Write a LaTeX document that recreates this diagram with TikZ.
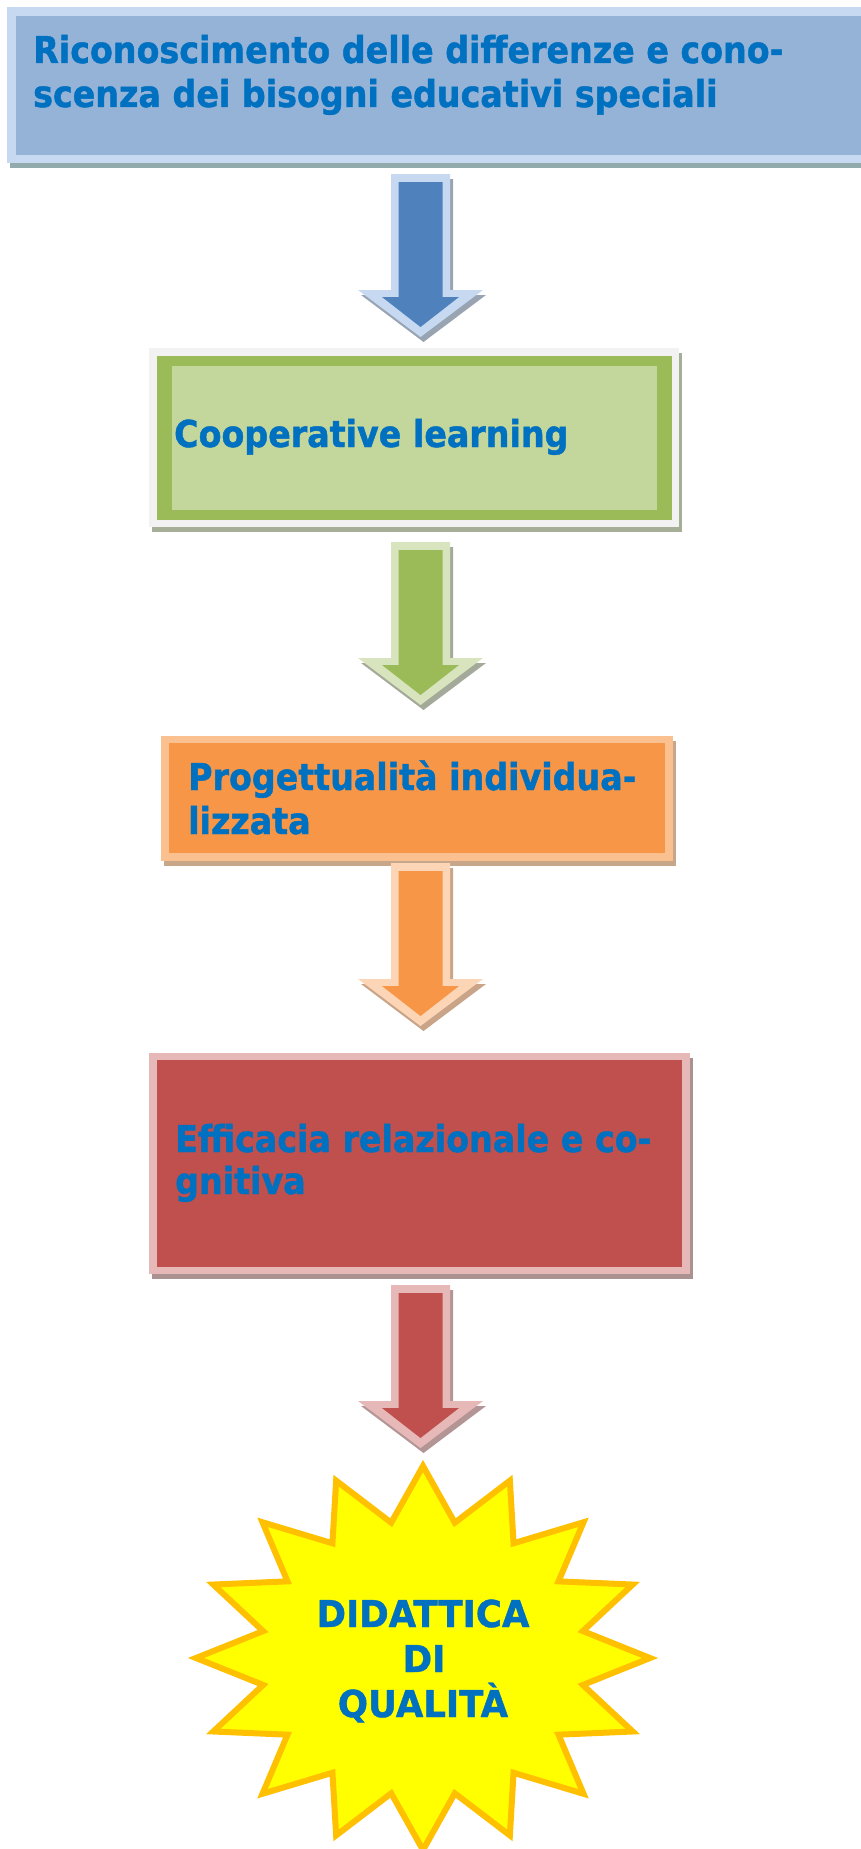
\documentclass[tikz,border=0pt]{standalone}
\usepackage{fontspec}
\newfontfamily\lbl{DejaVu Sans}[FakeStretch=0.9, FakeBold=1.2]
\newfontfamily\lblw{DejaVu Sans}[FakeStretch=0.96, FakeBold=1.2]
\definecolor{txtblue}{HTML}{0070C0}
\definecolor{bA}{HTML}{C6D9F1}\definecolor{bB}{HTML}{95B3D7}\definecolor{bS}{HTML}{93AAAD}
\definecolor{gO}{HTML}{F2F2F2}\definecolor{gA}{HTML}{9BBB59}\definecolor{gB}{HTML}{C3D69B}\definecolor{gS}{HTML}{A7AE98}
\definecolor{oA}{HTML}{FAC090}\definecolor{oB}{HTML}{F79646}\definecolor{oS}{HTML}{C8A68A}
\definecolor{rA}{HTML}{E6B9B8}\definecolor{rB}{HTML}{C0504D}\definecolor{rS}{HTML}{AC9191}
\definecolor{abA}{HTML}{C6D9F1}\definecolor{abB}{HTML}{4F81BD}\definecolor{abS}{HTML}{98A4B2}
\definecolor{agA}{HTML}{D7E4BD}\definecolor{agB}{HTML}{9BBB59}\definecolor{agS}{HTML}{A4AA9A}
\definecolor{aoA}{HTML}{FBD5B5}\definecolor{aoB}{HTML}{F79646}\definecolor{aoS}{HTML}{C9A488}
\definecolor{arA}{HTML}{E6B9B8}\definecolor{arB}{HTML}{C0504D}\definecolor{arS}{HTML}{B39595}
\definecolor{stF}{HTML}{FFFF00}\definecolor{stD}{HTML}{FFC000}
\tikzset{
  lab/.style={font=\lbl\bfseries\fontsize{37}{44}\selectfont, text=txtblue, inner sep=0pt, anchor=base west},
  starlab/.style={font=\lblw\bfseries\fontsize{37}{44}\selectfont, text=txtblue, inner sep=0pt, anchor=base},
  pics/barrow/.style n args={3}{code={
    \fill[#3] (-26.5,5) -- (32.5,5) -- (32.5,121) -- (65.5,121) -- (3,168) -- (-59.5,121) -- (-26.5,121) -- cycle;
    \fill[#1] (-29.5,0) -- (29.5,0) -- (29.5,116) -- (62.5,116) -- (0,163) -- (-62.5,116) -- (-29.5,116) -- cycle;
    \fill[#2] (-22,8) -- (22,8) -- (22,123) -- (38.5,123) -- (0,153) -- (-38.5,123) -- (-22,123) -- cycle;
  }}
}
\begin{document}
\begin{tikzpicture}[x=1pt,y=-1pt]
\useasboundingbox (0,0) rectangle (860,1849);
% box 1
\fill[bS] (10,12) rectangle (873,168);
\fill[bA] (7,7) rectangle (870,163);
\fill[bB] (16,16) rectangle (870,155);
\node[lab] (t1a) at (33,63) {Riconoscimento delle differenze e cono-};
\node[lab] (t1b) at (33,107) {scenza dei bisogni educativi speciali};
% arrow 1
\pic at (420.5,174) {barrow={abA}{abB}{abS}};
% box 2
\fill[gS] (152,353) rectangle (682,532);
\fill[gO] (149,348) rectangle (679,527);
\fill[gA] (157,356) rectangle (672,520);
\fill[gB] (172,366) rectangle (657,510);
\node[lab] (t2) at (174,447) {Cooperative learning};
% arrow 2
\pic at (420.5,542) {barrow={agA}{agB}{agS}};
% box 3
\fill[oS] (164,741) rectangle (676,866);
\fill[oA] (161,736) rectangle (673,861);
\fill[oB] (169,743) rectangle (665,853);
\node[lab] (t3a) at (188,790) {Progettualità individua-};
\node[lab] (t3b) at (188,834) {lizzata};
% arrow 3
\pic at (420.5,863) {barrow={aoA}{aoB}{aoS}};
% box 4
\fill[rS] (152,1058) rectangle (693,1279);
\fill[rA] (149,1053) rectangle (690,1274);
\fill[rB] (157,1060) rectangle (682,1267);
\node[lab] (t4a) at (175,1152) {Efficacia relazionale e co-};
\node[lab] (t4b) at (175,1194) {gnitiva};
% arrow 4
\pic at (420.5,1285) {barrow={arA}{arB}{arS}};
% star
\begin{scope}[shift={(423,1658)}]
\draw[fill=stF, draw=stD, line width=6pt, miter limit=10]
  (227,0)
  foreach \k [evaluate=\k as \a using \k*11.25,
              evaluate=\k as \rx using {isodd(\k) ? 163 : 227},
              evaluate=\k as \ry using {isodd(\k) ? 138 : 192}] in {1,...,31} { -- ({\rx*cos(\a)},{\ry*sin(\a)}) }
  -- cycle;
\end{scope}
\node[starlab] (s1) at (423,1627) {DIDATTICA};
\node[starlab] (s2) at (424,1672) {DI};
\node[starlab] (s3) at (423,1717) {QUALITÀ};
\end{tikzpicture}
\end{document}
